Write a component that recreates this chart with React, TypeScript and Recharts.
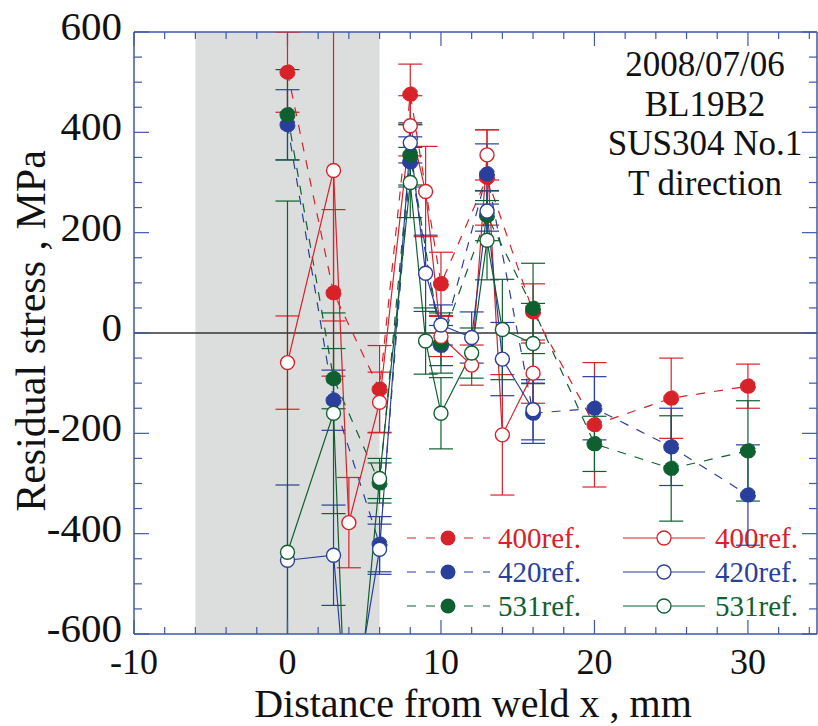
import {
  ComposedChart,
  Line,
  XAxis,
  YAxis,
  ErrorBar,
  ReferenceArea,
  ReferenceLine,
  Customized,
} from 'recharts';

// measured at 0, 3, 6 ... 30 mm (filled markers, dashed)
const xFilled = [0, 3, 6, 8, 10, 13, 16, 20, 25, 30];
const red400Filled = [520, 80, -112, 476, 98, 310, 42, -183, -130, -106];
const red400FilledErr = [80, 166, 87, 60, 63, 95, 56, 124, 80, 44];
const blue420Filled = [415, -134, -421, 341, -25, 317, -160, -150, -227, -323];
const blue420FilledErr = [70, 60, 55, 50, 40, 60, 60, 63, 77, 100];
const green531Filled = [435, -91, -299, 355, -20, 234, 49, -221, -270, -235];
const green531FilledErr = [90, 60, 40, 60, 60, 50, 90, 55, 105, 100];

// open markers, solid lines
const xOpen = [0, 3, 4, 6, 8, 9, 10, 12, 13, 14, 16];
const red400Open = [-59, 324, -378, -138, 413, 282, -7, -64, 355, -203, -80];
const red400OpenErr = [93, 300, 90, 60, 60, 90, 40, 40, 50, 120, 60];
const blue420Open = [-453, -443, -800, -431, 379, 119, 16, -9, 243, -52, -153];
const blue420OpenErr = [150, 100, 0, 50, 40, 76, 40, 51, 40, 73, 60];
const green531Open = [-437, -160, -950, -290, 300, -16, -160, -40, 185, 7, -21];
const green531OpenErr = [700, 200, 0, 40, 70, 66, 71, 50, 79, 100, 80];

const xTicks = [-10, -8, -6, -4, -2, 0, 2, 4, 6, 8, 10, 12, 14, 16, 18, 20, 22, 24, 26, 28, 30, 32, 34];
const yTicks = [
  -600, -550, -500, -450, -400, -350, -300, -250, -200, -150, -100, -50, 0,
  50, 100, 150, 200, 250, 300, 350, 400, 450, 500, 550, 600,
];
const noteLines = ['2008/07/06', 'BL19B2', 'SUS304 No.1', 'T direction'];

const RED = '#d7222a';
const BLUE = '#2a3f9b';
const GREEN = '#0f6030';
const AXIS = '#3d58ae';
const FONT = '"Liberation Serif", "Times New Roman", serif';

const LEFT = 134;
const RIGHT = 817;
const TOP = 32;
const BOTTOM = 634;

const rows = (xs: number[], ys: number[], es: number[]) =>
  xs.map((x, i) => ({ x, y: ys[i], e: es[i] }));

function BottomTick(props: any) {
  const { x, payload } = props;
  const v = payload.value;
  const major = v % 10 === 0;
  const len = major ? 14 : 7;
  return (
    <g>
      <line x1={x} x2={x} y1={BOTTOM} y2={BOTTOM - len} stroke={AXIS} strokeWidth={1.2} />
      <line x1={x} x2={x} y1={TOP} y2={TOP + len} stroke={AXIS} strokeWidth={1.2} />
      {major && (
        <text x={x} y={674} textAnchor="middle" fontSize={36} fontFamily={FONT} fill="#111">
          {v}
        </text>
      )}
    </g>
  );
}

function LeftTick(props: any) {
  const { y, payload } = props;
  const v = payload.value;
  const major = v % 200 === 0;
  const len = major ? 15 : 8;
  return (
    <g>
      <line x1={LEFT} x2={LEFT + len} y1={y} y2={y} stroke={AXIS} strokeWidth={1.2} />
      <line x1={RIGHT} x2={RIGHT - len} y1={y} y2={y} stroke={AXIS} strokeWidth={1.2} />
      {major && (
        <text x={122} y={y + 8} textAnchor="end" fontSize={41} fontFamily={FONT} fill="#111">
          {v}
        </text>
      )}
    </g>
  );
}

const legendRows = [
  { label: '400ref.', color: RED, y: 538 },
  { label: '420ref.', color: BLUE, y: 572 },
  { label: '531ref.', color: GREEN, y: 606 },
];

function Overlay() {
  return (
    <g fontFamily={FONT}>
      <defs>
        <clipPath id="plotClip">
          <rect x={LEFT} y={TOP} width={RIGHT - LEFT} height={BOTTOM - TOP} />
        </clipPath>
      </defs>
      <text transform="translate(45,331) rotate(-90)" textAnchor="middle" fontSize={42} fill="#111">
        Residual stress , MPa
      </text>
      <text x={473} y={717} textAnchor="middle" fontSize={40} fill="#111">
        Distance from weld x , mm
      </text>
      {noteLines.map((t, i) => (
        <text key={t} x={705} y={76 + i * 39.7} textAnchor="middle" fontSize={35} fill="#111">
          {t}
        </text>
      ))}
      {legendRows.map((r) => (
        <g key={r.label}>
          <line x1={407} x2={490} y1={r.y} y2={r.y} stroke={r.color} strokeWidth={1.2} strokeDasharray="9 10" />
          <circle cx={448} cy={r.y} r={7.5} fill={r.color} />
          <text x={498} y={r.y + 10} fontSize={29} fill={r.color}>
            {r.label}
          </text>
          <line x1={623} x2={705} y1={r.y} y2={r.y} stroke={r.color} strokeWidth={1.2} />
          <circle cx={664} cy={r.y} r={7} fill="#fff" stroke={r.color} strokeWidth={1.3} />
          <text x={715} y={r.y + 10} fontSize={29} fill={r.color}>
            {r.label}
          </text>
        </g>
      ))}
    </g>
  );
}

const filledSeries = [
  { name: '400 filled', color: RED, data: rows(xFilled, red400Filled, red400FilledErr) },
  { name: '420 filled', color: BLUE, data: rows(xFilled, blue420Filled, blue420FilledErr) },
  { name: '531 filled', color: GREEN, data: rows(xFilled, green531Filled, green531FilledErr) },
];
const openSeries = [
  { name: '400 open', color: RED, data: rows(xOpen, red400Open, red400OpenErr) },
  { name: '420 open', color: BLUE, data: rows(xOpen, blue420Open, blue420OpenErr) },
  { name: '531 open', color: GREEN, data: rows(xOpen, green531Open, green531OpenErr) },
];

export default function App() {
  return (
    <div style={{ position: 'absolute', left: 0, top: 0, background: '#fff' }}>
      <style>{'.recharts-errorBars { clip-path: url(#plotClip); }'}</style>
      <ComposedChart width={818} height={726} margin={{ top: TOP, right: 818 - RIGHT, bottom: 726 - BOTTOM - 40, left: LEFT - 60 }}>
        <XAxis
          type="number"
          dataKey="x"
          domain={[-10, 34.5]}
          ticks={xTicks}
          interval={0}
          height={40}
          allowDataOverflow
          tickLine={false}
          axisLine={{ stroke: AXIS, strokeWidth: 1.5 }}
          tick={<BottomTick />}
        />
        <YAxis
          type="number"
          dataKey="y"
          domain={[-600, 600]}
          ticks={yTicks}
          interval={0}
          width={60}
          allowDataOverflow
          tickLine={false}
          axisLine={{ stroke: AXIS, strokeWidth: 1.5 }}
          tick={<LeftTick />}
        />
        <ReferenceArea x1={-6} x2={6} y1={-600} y2={600} fill="#dcdddd" fillOpacity={1} stroke="none" />
        <ReferenceLine y={0} stroke="#333" strokeWidth={1.3} />
        <ReferenceLine y={600} stroke={AXIS} strokeWidth={1.5} />
        <ReferenceLine x={34.5} stroke={AXIS} strokeWidth={1.5} />
        {filledSeries.map((s) => (
          <Line
            key={s.name}
            data={s.data}
            dataKey="y"
            type="linear"
            stroke={s.color}
            strokeWidth={1.2}
            strokeDasharray="9 9"
            dot={{ r: 7.5, fill: s.color, stroke: s.color, strokeWidth: 1 }}
            activeDot={false}
            isAnimationActive={false}
          >
            <ErrorBar dataKey="e" direction="y" width={12} stroke={s.color} strokeWidth={1.2} />
          </Line>
        ))}
        {openSeries.map((s) => (
          <Line
            key={s.name}
            data={s.data}
            dataKey="y"
            type="linear"
            stroke={s.color}
            strokeWidth={1.2}
            dot={{ r: 7, fill: '#fff', stroke: s.color, strokeWidth: 1.4 }}
            activeDot={false}
            isAnimationActive={false}
          >
            <ErrorBar dataKey="e" direction="y" width={12} stroke={s.color} strokeWidth={1.2} />
          </Line>
        ))}
        <Customized component={<Overlay />} />
      </ComposedChart>
    </div>
  );
}
